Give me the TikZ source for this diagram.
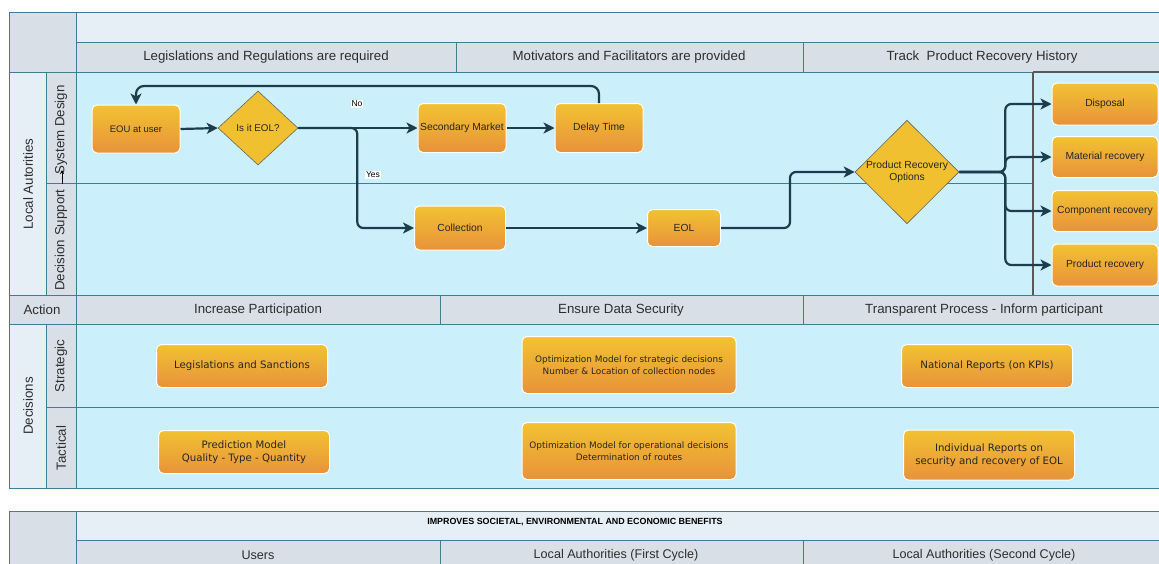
\documentclass[tikz,border=0pt]{standalone}
\usepackage{fontspec}
\setmainfont{Liberation Sans}
\newfontfamily\dejavu{DejaVu Sans}
\usetikzlibrary{shapes.geometric,arrows.meta}

\definecolor{bodyc}{HTML}{CCEFFC}
\definecolor{bandc}{HTML}{E6EEF6}
\definecolor{hdrc}{HTML}{D8DFE6}
\definecolor{gridc}{HTML}{3D7E93}
\definecolor{flowc}{HTML}{1B3D4D}
\definecolor{otop}{HTML}{F2C232}
\definecolor{obot}{HTML}{E8923A}
\definecolor{diac}{HTML}{F0C030}
\definecolor{txtc}{HTML}{2E2E2E}

\begin{document}
\begin{tikzpicture}[x=1pt,y=-1pt,
  cell/.style={draw=gridc,line width=1pt},
  hd/.style={font=\fontsize{13.3}{15}\selectfont,text=txtc,inner sep=0pt},
  obox/.style={rectangle,rounded corners=5pt,draw=white,line width=1pt,
    top color=otop,bottom color=obot,align=center,text=black!85,inner sep=0pt},
  ftxt/.style={font=\fontsize{10.3}{12}\selectfont},
  dtxt/.style={font=\dejavu\fontsize{10.2}{13}\selectfont},
  otxt/.style={font=\dejavu\fontsize{8.9}{12}\selectfont},
  dia/.style={diamond,draw=black!60,line width=0.6pt,fill=diac,aspect=1,inner sep=0pt,align=center,text=black!85},
  fl/.style={draw=flowc,line width=2.2pt,rounded corners=6pt,-{Stealth[length=11pt,width=11pt,inset=3pt]}},
  lab/.style={fill=white,inner sep=1pt,font=\fontsize{8.5}{10}\selectfont}
]
\useasboundingbox (0,0) rectangle (1159,563);
\fill[white] (0,0) rectangle (1159,563);

% ---------- top header block ----------
\draw[cell,fill=hdrc] (9,12) rectangle (76,72);
\draw[cell,fill=bandc] (76,12) rectangle (1170,42);
\draw[cell,fill=hdrc] (76,42) rectangle (456,72);
\draw[cell,fill=hdrc] (456,42) rectangle (803,72);
\draw[cell,fill=hdrc] (803,42) rectangle (1170,72);
\node[hd] (h1) at (266,57) {Legislations and Regulations are required};
\node[hd] (h2) at (629,57) {Motivators and Facilitators are provided};
\node[hd] (h3) at (982,57) {Track\ \ Product Recovery History};

% ---------- Local authorities block ----------
\draw[cell,fill=bandc] (9,72) rectangle (46,295);
\draw[cell,fill=hdrc] (46,72) rectangle (76,183);
\draw[cell,fill=hdrc] (46,183) rectangle (76,295);
\draw[cell,fill=bodyc] (76,72) rectangle (1170,295);
\draw[draw=gridc,line width=0.8pt] (76,183) -- (1033,183);
\draw[draw=black!65,line width=1.2pt] (1033,72) -- (1033,295);
\draw[draw=black!65,line width=1.2pt] (1033,72) -- (1170,72);
\node[hd,rotate=90] (la) at (28,184) {Local Autorities};
\node[hd,rotate=90] (sd) at (61,130) {System Design};
\node[hd,rotate=90] (ds) at (61,240) {Decision Support};
\coordinate (sa1) at (62,184);
\coordinate (sa2) at (62,170);
\draw[black,line width=0.7pt,-{Stealth[length=4pt,width=4pt]}] (sa1) -- (sa2);

% ---------- Action row ----------
\draw[cell,fill=hdrc] (9,295) rectangle (76,324);
\draw[cell,fill=hdrc] (76,295) rectangle (440,324);
\draw[cell,fill=hdrc] (440,295) rectangle (803,324);
\draw[cell,fill=hdrc] (803,295) rectangle (1170,324);
\node[hd] (act) at (42,310) {Action};
\node[hd] (a1) at (258,310) {Increase Participation};
\node[hd] (a2) at (621,310) {Ensure Data Security};
\node[hd] (a3) at (984,310) {Transparent Process - Inform participant};

% ---------- Decisions block ----------
\draw[cell,fill=bandc] (9,324) rectangle (46,488);
\draw[cell,fill=hdrc] (46,324) rectangle (76,407);
\draw[cell,fill=hdrc] (46,407) rectangle (76,488);
\draw[cell,fill=bodyc] (76,324) rectangle (1170,488);
\draw[draw=gridc,line width=0.8pt] (76,407) -- (1170,407);
\node[hd,rotate=90] (dec) at (28,406) {Decisions};
\node[hd,rotate=90] (st) at (61,366) {Strategic};
\node[hd,rotate=90] (ta) at (61,448) {Tactical};

% ---------- bottom block ----------
\draw[cell,fill=hdrc] (9,511) rectangle (76,575);
\draw[cell,fill=bandc] (76,511) rectangle (1170,540);
\draw[cell,fill=hdrc] (76,540) rectangle (440,575);
\draw[cell,fill=hdrc] (440,540) rectangle (803,575);
\draw[cell,fill=hdrc] (803,540) rectangle (1170,575);
\node[font=\bfseries\fontsize{8.9}{10}\selectfont,text=black,inner sep=0pt] (imp) at (575,522) {IMPROVES SOCIETAL, ENVIRONMENTAL AND ECONOMIC BENEFITS};
\node[hd,font=\fontsize{12.6}{14}\selectfont] (u1) at (258,555) {Users};
\node[hd,font=\fontsize{12.6}{14}\selectfont] (u2) at (616,555) {Local Authorities (First Cycle)};
\node[hd,font=\fontsize{12.6}{14}\selectfont] (u3) at (984,555) {Local Authorities (Second Cycle)};

% ---------- flow nodes ----------
\node[obox,minimum width=88pt,minimum height=48pt,font=\fontsize{9.5}{11}\selectfont] (eou) at (136,129) {EOU at user};
\node[dia,minimum width=80pt,minimum height=74pt,font=\fontsize{9.8}{11}\selectfont] (iseol) at (258,128) {Is it EOL?};
\node[obox,minimum width=88pt,minimum height=49pt,ftxt] (sec) at (462,128) {Secondary Market};
\node[obox,minimum width=88pt,minimum height=49pt,ftxt] (delay) at (599,128) {Delay Time};
\node[obox,minimum width=91pt,minimum height=44pt,ftxt] (coll) at (460,228) {Collection};
\node[obox,minimum width=73pt,minimum height=37pt,ftxt] (eol) at (684,228) {EOL};
\node[dia,minimum width=104pt,minimum height=86pt,font=\fontsize{10.3}{12}\selectfont] (pro) at (907,172) {Product Recovery\\Options};
\node[obox,minimum width=106pt,minimum height=42pt,ftxt] (disp) at (1105,104) {Disposal};
\node[obox,minimum width=106pt,minimum height=41pt,ftxt] (mat) at (1105,157) {Material recovery};
\node[obox,minimum width=106pt,minimum height=41pt,ftxt] (comp) at (1105,211) {Component recovery};
\node[obox,minimum width=106pt,minimum height=42pt,ftxt] (prod) at (1105,265) {Product recovery};

% ---------- decision nodes ----------
\node[obox,minimum width=171pt,minimum height=43pt,dtxt] (legs) at (242,366) {Legislations and Sanctions};
\node[obox,minimum width=171pt,minimum height=43pt,dtxt] (pred) at (244,452) {Prediction Model\\Quality - Type - Quantity};
\node[obox,minimum width=214pt,minimum height=57pt,otxt] (optS) at (629,365) {Optimization Model for strategic decisions\\Number \& Location of collection nodes};
\node[obox,minimum width=214pt,minimum height=57pt,otxt] (optO) at (629,451) {Optimization Model for operational decisions\\Determination of routes};
\node[obox,minimum width=171pt,minimum height=43pt,dtxt] (nat) at (987,366) {National Reports (on KPIs)};
\node[obox,minimum width=171pt,minimum height=50pt,dtxt] (ind) at (989,455) {Individual Reports on\\security and recovery of EOL};

% ---------- connectors ----------
\draw[fl] (eou.east) -- (iseol.west);
\draw[fl] (iseol.east) -- (sec.west);
\draw[fl] (iseol.east) -- ++(59,0) |- (coll.west);
\draw[fl] (sec.east) -- (delay.west);
\draw[fl,rounded corners=8pt] (delay.north) -- ++(0,-17) -| (eou.north);
\draw[fl] (coll.east) -- (eol.west);
\draw[fl] (eol.east) -- ++(69,0) |- (pro.west);
\draw[fl] (pro.east) -- ++(46,0) |- (disp.west);
\draw[fl] (pro.east) -- ++(46,0) |- (mat.west);
\draw[fl] (pro.east) -- ++(46,0) |- (comp.west);
\draw[fl] (pro.east) -- ++(46,0) |- (prod.west);
\node[lab] (no) at (357,104) {No};
\node[lab] (yes) at (373,175) {Yes};
\end{tikzpicture}
\end{document}
